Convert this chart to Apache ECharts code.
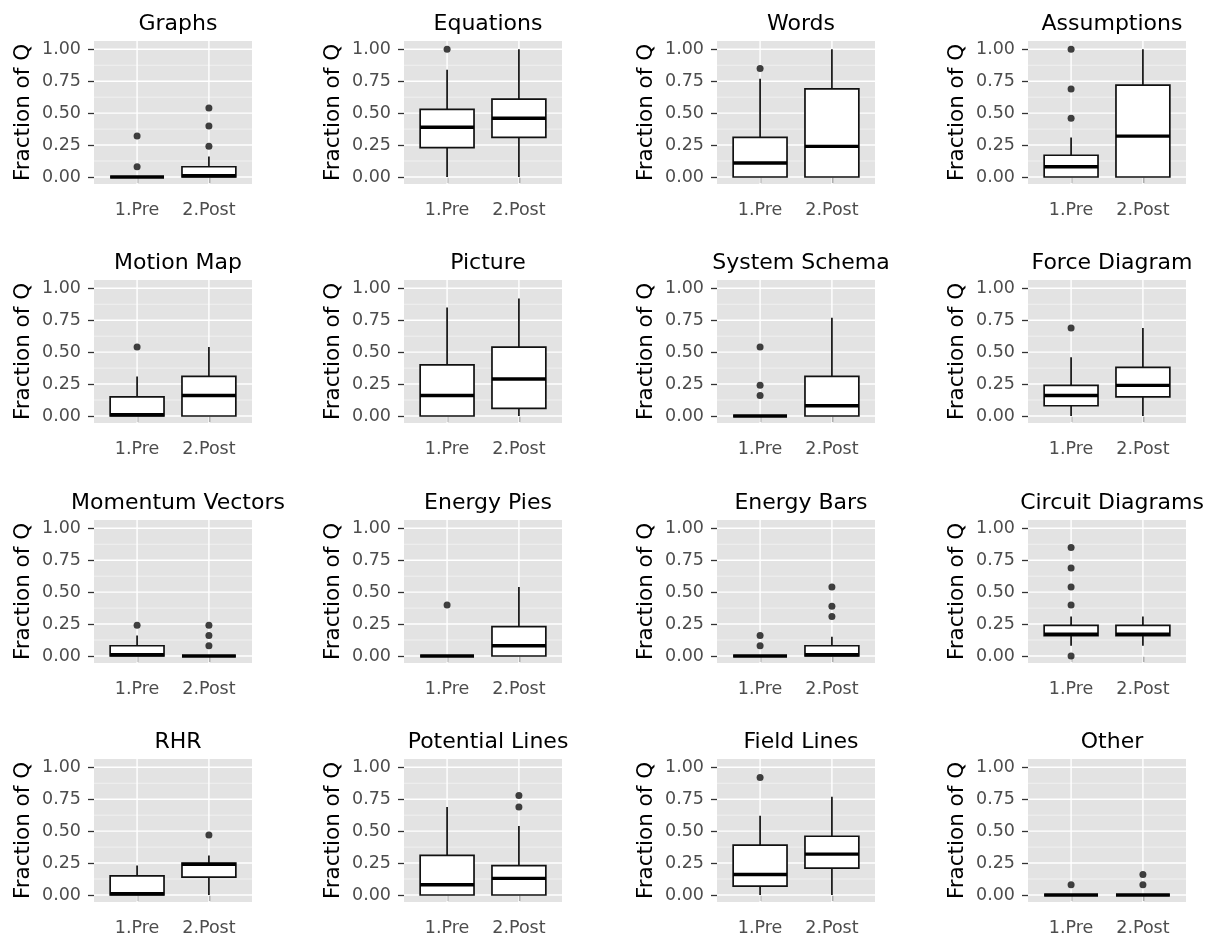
<!DOCTYPE html>
<html><head><meta charset="utf-8">
<script src="https://cdn.jsdelivr.net/npm/echarts@6/dist/echarts.min.js"></script>
<style>html,body{margin:0;padding:0;background:#fff}#c{width:1210px;height:940px}</style>
</head><body><div id="c"></div>
<script>
// ---------- data ----------
const panelTitles = ['Graphs','Equations','Words','Assumptions',
  'Motion Map','Picture','System Schema','Force Diagram',
  'Momentum Vectors','Energy Pies','Energy Bars','Circuit Diagrams',
  'RHR','Potential Lines','Field Lines','Other'];
const groups = ['1.Pre','2.Post'];
const yTickValues = [0, 0.25, 0.5, 0.75, 1];
const yMinorValues = [0.125, 0.375, 0.625, 0.875];
const yTitle = 'Fraction of Q';
// [lower whisker, Q1, median, Q3, upper whisker]
const preStats = [
  [0, 0, 0, 0, 0],
  [0, 0.23, 0.39, 0.53, 0.84],
  [0, 0, 0.11, 0.31, 0.77],
  [0, 0, 0.08, 0.17, 0.31],
  [0, 0, 0.01, 0.15, 0.31],
  [0, 0, 0.16, 0.40, 0.85],
  [0, 0, 0, 0, 0],
  [0, 0.08, 0.16, 0.24, 0.46],
  [0, 0, 0.01, 0.08, 0.16],
  [0, 0, 0, 0, 0],
  [0, 0, 0, 0, 0],
  [0.08, 0.16, 0.17, 0.24, 0.31],
  [0, 0, 0.01, 0.15, 0.23],
  [0, 0, 0.08, 0.31, 0.69],
  [0, 0.07, 0.16, 0.39, 0.62],
  [0, 0, 0, 0, 0]
];
const postStats = [
  [0, 0, 0.01, 0.08, 0.16],
  [0, 0.31, 0.46, 0.61, 1.0],
  [0, 0, 0.24, 0.69, 1.0],
  [0, 0, 0.32, 0.72, 1.0],
  [0, 0, 0.16, 0.31, 0.54],
  [0, 0.06, 0.29, 0.54, 0.92],
  [0, 0, 0.08, 0.31, 0.77],
  [0, 0.15, 0.24, 0.38, 0.69],
  [0, 0, 0, 0, 0],
  [0, 0, 0.08, 0.23, 0.54],
  [0, 0, 0.01, 0.08, 0.15],
  [0.08, 0.16, 0.17, 0.24, 0.31],
  [0, 0.14, 0.24, 0.25, 0.31],
  [0, 0, 0.13, 0.23, 0.54],
  [0, 0.21, 0.32, 0.46, 0.77],
  [0, 0, 0, 0, 0]
];
const preOutliers = [
  [0.32, 0.08], [1.0], [0.85], [1.0, 0.69, 0.46],
  [0.54], [], [0.54, 0.24, 0.16], [0.69],
  [0.24], [0.40], [0.16, 0.08], [0.85, 0.69, 0.54, 0.40, 0.0],
  [], [], [0.92], [0.08]
];
const postOutliers = [
  [0.54, 0.40, 0.24], [], [], [],
  [], [], [], [],
  [0.24, 0.16, 0.08], [], [0.54, 0.39, 0.31], [],
  [0.47], [0.78, 0.69], [], [0.16, 0.08]
];

// ---------- layout ----------
const colLeft = [94, 404, 717, 1028];
const rowTop = [41, 280, 520, 759];
const plotW = 158, plotH = 143;
const Y_MIN = -0.055, Y_MAX = 1.065;
const X_MIN = 0.4, X_MAX = 2.6;
const FONT = 'DejaVu Sans';

const grids = [], xAxes = [], yAxes = [], series = [], titles = [];

function gridRender(params, api) {
  const kind = api.value(0), v = api.value(1);
  const cs = params.coordSys;
  if (kind === 2) {
    const x = api.coord([v, 0])[0];
    return {type: 'line', shape: {x1: x, y1: cs.y, x2: x, y2: cs.y + cs.height},
      style: {stroke: '#FFFFFF', lineWidth: 1.4}};
  }
  const y = api.coord([1, v])[1];
  return {type: 'line', shape: {x1: cs.x, y1: y, x2: cs.x + cs.width, y2: y},
    style: {stroke: kind === 1 ? '#FFFFFF' : '#F2F2F2', lineWidth: kind === 1 ? 1.4 : 0.9}};
}

function boxRender(params, api) {
  const x = api.value(0);
  const lo = api.coord([x, api.value(1)]);
  const q1 = api.coord([x, api.value(2)]);
  const md = api.coord([x, api.value(3)]);
  const q3 = api.coord([x, api.value(4)]);
  const hi = api.coord([x, api.value(5)]);
  const half = api.size([0.75, 0])[0] / 2;
  const cx = lo[0];
  const ls = {stroke: '#111', lineWidth: 1.7};
  return {type: 'group', children: [
    {type: 'line', shape: {x1: cx, y1: q1[1], x2: cx, y2: lo[1]}, style: ls},
    {type: 'line', shape: {x1: cx, y1: q3[1], x2: cx, y2: hi[1]}, style: ls},
    {type: 'rect', shape: {x: cx - half, y: q3[1], width: 2 * half, height: q1[1] - q3[1]},
      style: {fill: '#FFFFFF', stroke: '#111', lineWidth: 1.7}},
    {type: 'line', shape: {x1: cx - half, y1: md[1], x2: cx + half, y2: md[1]},
      style: {stroke: '#000', lineWidth: 3.4}}
  ]};
}

panelTitles.forEach((name, i) => {
  const r = Math.floor(i / 4), c = i % 4;
  grids.push({left: colLeft[c], top: rowTop[r], width: plotW, height: plotH,
    show: true, backgroundColor: '#E3E3E3', borderWidth: 0, containLabel: false});
  xAxes.push({gridIndex: i, type: 'value', min: X_MIN, max: X_MAX,
    axisLine: {show: false}, splitLine: {show: false},
    axisTick: {show: true, customValues: [1, 2], length: 6, lineStyle: {color: '#333', width: 1.3}},
    axisLabel: {customValues: [1, 2], formatter: v => groups[Math.round(v) - 1],
      color: '#4D4D4D', fontSize: 17.5, fontFamily: FONT, margin: 17}});
  yAxes.push({gridIndex: i, type: 'value', min: Y_MIN, max: Y_MAX,
    name: yTitle, nameLocation: 'middle', nameRotate: 90, nameGap: 60,
    nameTextStyle: {color: '#000', fontSize: 21.5, fontFamily: FONT},
    axisLine: {show: false}, splitLine: {show: false},
    axisTick: {show: true, customValues: yTickValues, length: 6, lineStyle: {color: '#333', width: 1.3}},
    axisLabel: {customValues: yTickValues, formatter: v => v.toFixed(2),
      color: '#4D4D4D', fontSize: 17.5, fontFamily: FONT, margin: 13}});
  titles.push({text: name, left: colLeft[c] + plotW / 2, top: rowTop[r] - 33, textAlign: 'center',
    textStyle: {fontSize: 22, fontWeight: 'normal', color: '#000', fontFamily: FONT}});

  const gridData = yMinorValues.map(v => [0, v])
    .concat(yTickValues.map(v => [1, v]))
    .concat([[2, 1], [2, 2]]);
  series.push({type: 'custom', xAxisIndex: i, yAxisIndex: i, silent: true, z: 1,
    renderItem: gridRender, data: gridData, encode: {x: 1, y: 1}});
  series.push({type: 'custom', xAxisIndex: i, yAxisIndex: i, silent: true, z: 2,
    renderItem: boxRender,
    data: [[1].concat(preStats[i]), [2].concat(postStats[i])],
    encode: {x: 0, y: [1, 2, 3, 4, 5]}});
  const pts = preOutliers[i].map(v => [1, v]).concat(postOutliers[i].map(v => [2, v]));
  series.push({type: 'scatter', xAxisIndex: i, yAxisIndex: i, silent: true, z: 3,
    symbol: 'circle', symbolSize: 7, itemStyle: {color: '#111'}, data: pts});
});

const chart = echarts.init(document.getElementById('c'), null, {renderer: 'canvas'});
chart.setOption({animation: false, backgroundColor: '#FFFFFF',
  title: titles, grid: grids, xAxis: xAxes, yAxis: yAxes, series: series});
</script></body></html>
